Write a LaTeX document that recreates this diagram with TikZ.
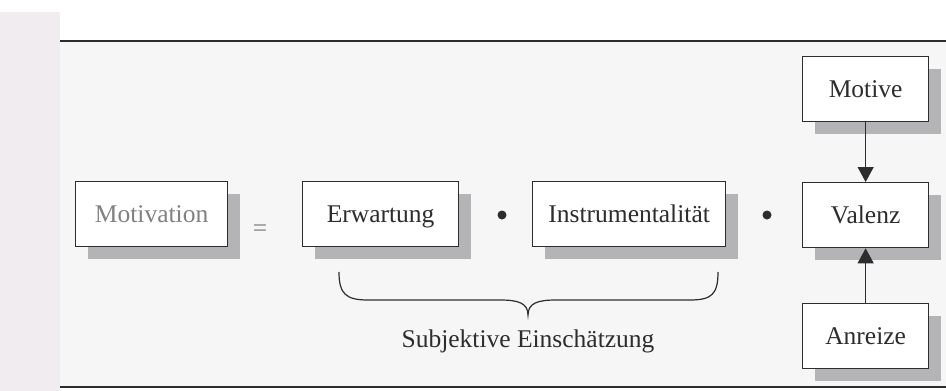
\documentclass[tikz,border=0pt]{standalone}
\usepackage{fontspec}
\setmainfont{Liberation Serif}
\usetikzlibrary{arrows.meta,calc}
\definecolor{ink}{HTML}{2E2C2E}
\definecolor{paper}{HTML}{F7F6F7}
\definecolor{margin}{HTML}{F1ECEF}
\definecolor{shadowgrey}{HTML}{B4B3B5}
\tikzset{
  term/.style={draw=ink, line width=1.3pt, fill=white, minimum height=65pt,
    inner sep=0pt, text height=20pt, text depth=3pt, text=ink,
    font=\fontsize{25.5}{30}\selectfont},
  rule/.style={draw=ink, line width=1.2pt},
  link/.style={draw=ink, line width=1.1pt, -{Triangle[length=15pt,width=16pt]}},
  dot/.style={circle, fill=ink, inner sep=0pt, minimum size=9pt},
}
% box with an offset grey drop shadow
\newcommand{\shadowbox}[5]{% name, x, y, width, text
  \fill[shadowgrey] (#2+13,#3+13) rectangle ++(#4,65);
  \node[term, minimum width=#4pt, anchor=north west] (#1) at (#2,#3) {#5};
}
\begin{document}
\begin{tikzpicture}[x=1pt,y=-1pt]
\useasboundingbox (0,0) rectangle (946,391);
\fill[margin] (0,12) rectangle (60,391);
\fill[paper] (60,41) rectangle (946,387);
\draw[rule] (60,41) -- (946,41);
\draw[rule] (60,387) -- (946,387);

\shadowbox{motivation}{75}{181}{152}{\textcolor{ink!60}{Motivation}}
\shadowbox{erwartung}{302}{181}{156}{Erwartung}
\shadowbox{instr}{532}{181}{193}{Instrumentalität}
\shadowbox{motive}{802}{56}{126}{Motive}
\shadowbox{valenz}{802}{182}{126}{Valenz}
\shadowbox{anreize}{802}{303}{126}{Anreize}

\node[text=ink!60, font=\fontsize{25.5}{30}\selectfont] (eq) at (260,231) {=};
\node[dot] (d1) at (502,215) {};
\node[dot] (d2) at (767,215) {};

\draw[link] (motive.south) -- (valenz.north);
\draw[link] (anreize.north) -- (valenz.south);

% curly brace under the two estimation terms
\coordinate (bl) at (339,272);
\coordinate (br) at (718,272);
\coordinate (tip) at (528,315);
\draw[ink, line width=1.2pt]
  (bl) .. controls (339,294) and (346,300) .. (368,300) -- (500,300)
  .. controls (518,300) and (528,303) .. (tip)
  .. controls (528,303) and (538,300) .. (556,300) -- (690,300)
  .. controls (712,300) and (718,294) .. (br);
\node[text=ink, font=\fontsize{25.5}{30}\selectfont] (subj) at (528,341) {Subjektive Einschätzung};
\end{tikzpicture}
\end{document}
